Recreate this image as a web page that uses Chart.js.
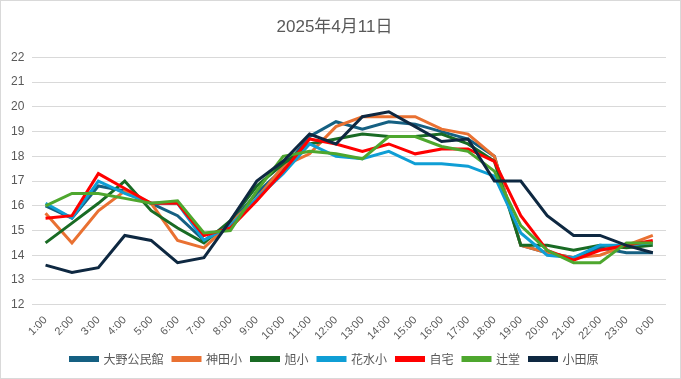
<!DOCTYPE html>
<html>
<head>
<meta charset="utf-8">
<script src="https://cdn.jsdelivr.net/npm/chart.js@4"></script>
<style>
  html, body { margin: 0; padding: 0; background: #fff; }
  .box { width: 679px; height: 377px; border: 1px solid #d9d9d9; }
</style>
</head>
<body>
<div class="box"><canvas id="myChart" width="679" height="377"></canvas></div>
<script>
  const hours = ['1:00','2:00','3:00','4:00','5:00','6:00','7:00','8:00','9:00','10:00','11:00','12:00',
                 '13:00','14:00','15:00','16:00','17:00','18:00','19:00','20:00','21:00','22:00','23:00','0:00'];

  const oono     = [16.0,15.5,16.8,16.6,16.1,15.6,14.6,15.3,16.5,17.5,18.8,19.4,19.1,19.4,19.3,19.0,18.7,18.0,14.4,14.1,13.9,14.3,14.1,14.1];
  const kanda    = [15.7,14.5,15.8,16.6,16.1,14.6,14.3,15.3,16.3,17.6,18.1,19.2,19.6,19.6,19.6,19.1,18.9,18.0,14.4,14.1,13.9,14.0,14.4,14.8];
  const asahi    = [14.5,15.3,16.1,17.0,15.8,15.1,14.5,15.4,16.8,17.7,18.5,18.7,18.9,18.8,18.8,18.9,18.5,17.8,14.4,14.4,14.2,14.4,14.3,14.4];
  const hanamizu = [16.1,15.5,17.0,16.5,16.1,16.1,14.6,15.2,16.3,17.3,18.5,18.0,17.9,18.2,17.7,17.7,17.6,17.2,14.9,14.0,13.9,14.4,14.4,14.5];
  const jitaku   = [15.5,15.6,17.3,16.7,16.1,16.1,14.8,15.1,16.2,17.4,18.7,18.5,18.2,18.5,18.1,18.3,18.3,17.8,15.6,14.2,13.8,14.2,14.4,14.6];
  const tsujido  = [16.0,16.5,16.5,16.3,16.1,16.2,14.9,15.0,16.6,18.0,18.2,18.1,17.9,18.8,18.8,18.4,18.2,17.4,15.2,14.2,13.7,13.7,14.5,14.5];
  const odawara  = [13.6,13.3,13.5,14.8,14.6,13.7,13.9,15.4,17.0,17.8,18.9,18.5,19.6,19.8,19.2,18.6,18.7,17.0,17.0,15.6,14.8,14.8,14.4,14.1];

  const names  = ['大野公民館','神田小','旭小','花水小','自宅','辻堂','小田原'];
  const series = [oono, kanda, asahi, hanamizu, jitaku, tsujido, odawara];
  const colors = ['#156082','#E97132','#196B24','#0F9ED5','#FF0000','#4EA72E','#0E2841'];

  const ctx = document.getElementById('myChart');

  new Chart(ctx, {
    type: 'line',
    data: {
      labels: hours,
      datasets: series.map((d, i) => ({
        label: names[i],
        data: d,
        borderColor: colors[i],
        backgroundColor: colors[i],
        borderWidth: 3,
        pointRadius: 0,
        tension: 0,
        order: series.length - i
      }))
    },
    options: {
      responsive: false,
      animation: false,
      layout: { padding: { left: 2, right: 14, top: 4, bottom: 3 } },
      plugins: {
        title: {
          display: true,
          text: '2025年4月11日',
          color: '#595959',
          font: { family: 'Liberation Sans, Noto Sans CJK JP', size: 17, weight: 'normal' },
          padding: { top: 12, bottom: 20 }
        },
        legend: {
          position: 'bottom',
          labels: {
            sort: (a, b) => a.datasetIndex - b.datasetIndex,
            boxWidth: 27,
            boxHeight: 3,
            color: '#595959',
            padding: 9.5,
            font: { family: 'Noto Sans CJK JP', size: 12 }
          }
        },
        tooltip: { enabled: false }
      },
      scales: {
        x: {
          offset: true,
          grid: { display: false },
          border: { display: false },
          ticks: {
            color: '#595959',
            padding: 1,
            minRotation: 45,
            maxRotation: 45,
            font: { family: 'Liberation Sans', size: 11 }
          }
        },
        y: {
          min: 12,
          max: 22,
          grid: { color: '#d9d9d9', drawTicks: false },
          border: { display: false },
          ticks: {
            stepSize: 1,
            padding: 8,
            color: '#595959',
            font: { family: 'Liberation Sans', size: 12 }
          }
        }
      }
    }
  });
</script>
</body>
</html>
